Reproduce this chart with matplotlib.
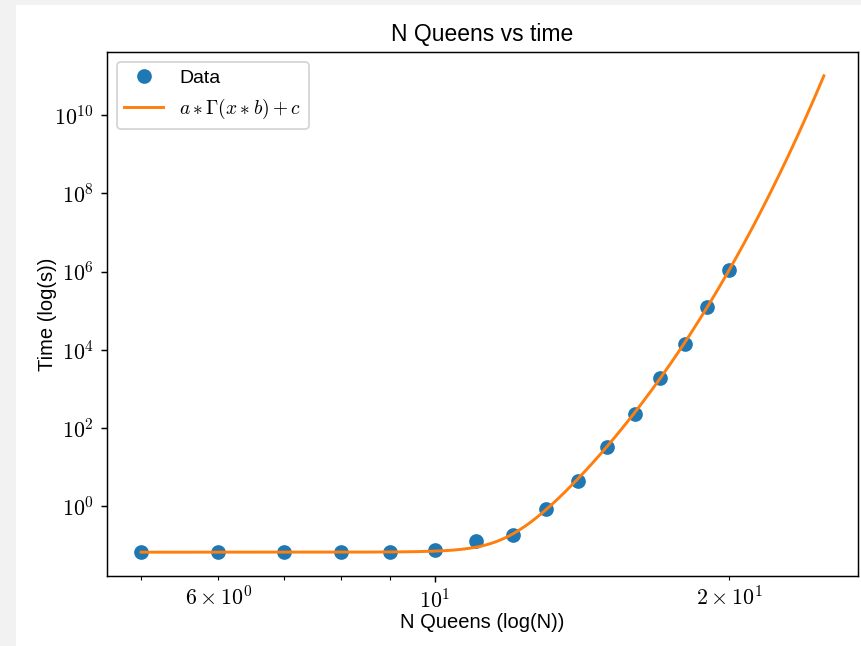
"""N Queens timing vs board size, with a*Gamma(x*b)+c fit, log-log."""
import math
import numpy as np
import matplotlib; matplotlib.use("Agg"); import matplotlib.pyplot as plt
from matplotlib.patches import Rectangle
from matplotlib.ticker import FuncFormatter

plt.rcParams["font.family"] = ["Liberation Sans", "DejaVu Sans"]
plt.rcParams["mathtext.fontset"] = "cm"

# measured run times (s) per board size N
N = [5, 6, 7, 8, 9, 10, 11, 12, 13, 14, 15, 16, 17, 18, 19, 20]
T = [0.0657, 0.0660, 0.0662, 0.0665, 0.068, 0.0726, 0.126, 0.18, 0.82, 4.4,
     32.9, 228, 1918, 13770, 125300, 1.1e6]

# fitted parameters of a * Gamma(x * b) + c, curve drawn over [5, 25]
A_FIT, B_FIT, C_FIT = 8.4e-7, 0.80, 0.0655
X_FIT = np.linspace(5, 25, 200)
Y_FIT = [A_FIT * math.gamma(x * B_FIT) + C_FIT for x in X_FIT]

W, H, DPI = 861, 646, 132
fig = plt.figure(figsize=(W / DPI, H / DPI), dpi=DPI, facecolor="#f2f2f2")
fig.patches.append(Rectangle((16 / W, 0), (W - 16) / W, (H - 5) / H,
                             transform=fig.transFigure, facecolor="white",
                             edgecolor="none", zorder=-1))
ax = fig.add_axes([107 / W, (H - 576) / H, (858 - 107) / W, (576 - 52) / H])

ax.plot(N, T, "o", color="#1f77b4", ms=7, label="Data")
ax.plot(X_FIT, Y_FIT, color="#ff7f0e", lw=1.6, label=r"$a*\Gamma(x*b)+c$")
ax.set_xscale("log"); ax.set_yscale("log")

def pow10(v, pos=None):
    return r"$10^{%d}$" % round(math.log10(v))

def xminor(v, pos=None):
    if round(v) in (6, 20):
        e = int(math.floor(math.log10(v)))
        return r"$%d\times10^{%d}$" % (round(v / 10 ** e), e)
    return ""

ax.yaxis.set_major_formatter(FuncFormatter(pow10))
ax.xaxis.set_major_formatter(FuncFormatter(pow10))
ax.xaxis.set_minor_formatter(FuncFormatter(xminor))

ax.set_title("N Queens vs time", fontsize=12.5)
ax.set_xlabel("N Queens (log(N))", fontsize=11, labelpad=0)
ax.set_ylabel("Time (log(s))", fontsize=11, labelpad=-1.5)
ax.tick_params(which="both", labelsize=12)
ax.legend(loc="upper left", fontsize=10.6)

fig.savefig("out.png", dpi=DPI, facecolor=fig.get_facecolor())
